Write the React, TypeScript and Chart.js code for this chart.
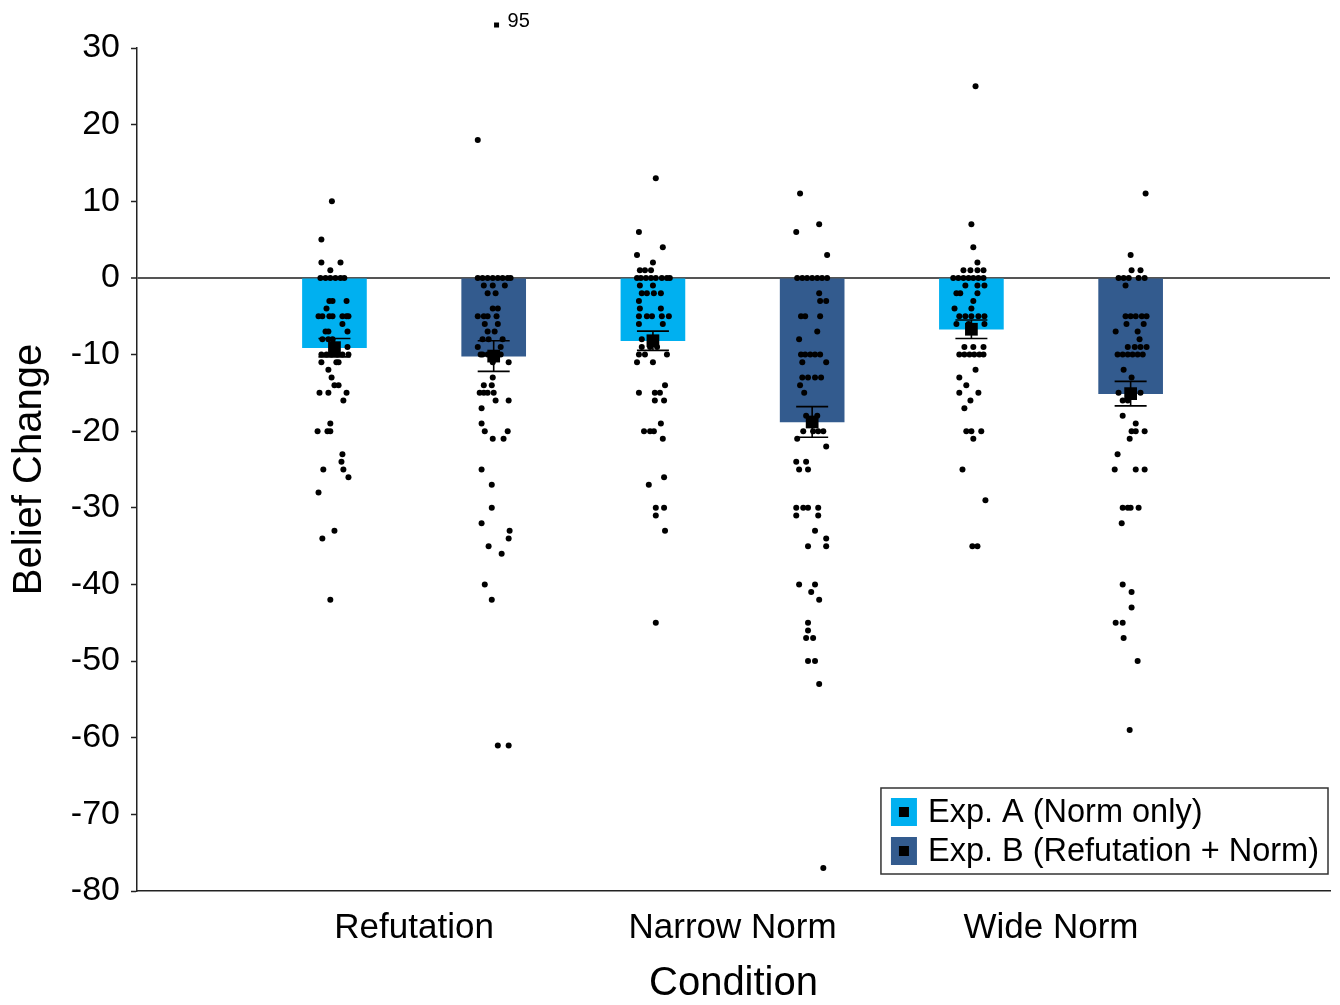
import React, { useEffect, useRef } from 'react';
import { Chart, registerables } from 'chart.js';

Chart.register(...registerables);

const FONT = '"Liberation Sans", Arial, Helvetica, sans-serif';

const categories = ['Refutation', 'Narrow Norm', 'Wide Norm'];
const seriesLabels = ['Exp. A (Norm only)', 'Exp. B (Refutation + Norm)'];
const seriesColors = ['#00B0F0', '#335B8E'];
const yTickMin = -80;
const yTickMax = 30;
const yTickStep = 10;

// group means and standard errors
const meansA = [-9.1, -8.2, -6.7];
const seA = [1.2, 1.25, 1.2];
const meansB = [-10.2, -18.8, -15.1];
const seB = [2.0, 2.0, 1.6];

// clipped outlier (actual value 95, drawn just above the axis top)
const outlierLabel = '95';

// individual responses: [belief change, horizontal jitter in thousandths of a category]
const refutationA: [number, number][] = [
  [10, -8], [5, -41], [2, -41], [2, 19], [1, -13],
  [0, -44], [0, -28], [0, -13], [0, 3], [0, 19], [0, 31],
  [-3, -16], [-3, -6], [-3, 38], [-4, -25],
  [-5, -50], [-5, -38], [-5, -16], [-5, -6], [-5, 25], [-5, 38], [-5, 44],
  [-6, 25], [-7, -28], [-7, -19], [-7, 41], [-8, -38], [-8, -19], [-8, -6],
  [-9, 41], [-9, -6], [-9, 3],
  [-10, -41], [-10, -25], [-10, -9], [-10, 9], [-10, 25], [-10, 44],
  [-11, -41], [-11, 6], [-11, 13], [-12, -19], [-13, -9], [-14, 0], [-14, 13],
  [-15, -47], [-15, -19], [-15, 38], [-16, 28], [-19, -13],
  [-20, -53], [-20, -22], [-20, -13], [-23, 25], [-24, 22], [-25, -35], [-25, 28],
  [-26, 44], [-28, -50], [-33, 0], [-34, -38], [-42, -13],
];
const refutationB: [number, number][] = [
  [33, 9], [18, -50],
  [0, -50], [0, -35], [0, -19], [0, -3], [0, 13], [0, 28], [0, 44], [0, 53],
  [-1, -31], [-1, -3], [-1, 35], [-2, -19], [-2, 6], [-4, -3], [-4, 13],
  [-5, -50], [-5, -31], [-5, -19], [-5, 9], [-6, -28], [-6, 13], [-7, -19], [-7, 3],
  [-8, -35], [-8, -16], [-8, 28], [-9, -50], [-9, 22],
  [-10, -41], [-10, -35], [-10, -19], [-10, -3], [-10, 9], [-10, 22],
  [-11, -3], [-11, 47], [-13, -3], [-14, -31], [-14, -6],
  [-15, -44], [-15, -31], [-15, -19], [-15, 0], [-16, 6], [-16, 47], [-17, -38], [-19, -38],
  [-20, -28], [-20, 44], [-21, -3], [-21, 31], [-25, -38], [-27, -6], [-30, -6],
  [-32, -38], [-33, 50], [-34, 47], [-35, -16], [-36, 25], [-40, -28], [-42, -6],
  [-61, 13], [-61, 47],
];
const narrowA: [number, number][] = [
  [13, 9], [6, -44], [4, 31], [3, -50], [2, 0], [1, -41], [1, -25], [1, -6],
  [0, -50], [0, -38], [0, -22], [0, -6], [0, 9], [0, 28], [0, 44], [0, 53],
  [-1, -41], [-1, 0], [-2, -35], [-2, -19], [-2, 3], [-2, 25], [-3, -44],
  [-4, -41], [-4, 25], [-5, -44], [-5, -19], [-5, -3], [-5, 28], [-5, 50],
  [-6, -44], [-6, 31], [-8, -35], [-8, 0], [-9, -35], [-9, -9], [-9, 13],
  [-10, -44], [-10, -25], [-10, 44], [-11, -50], [-11, 0], [-14, 38],
  [-15, -44], [-15, 6], [-15, 22], [-16, 6], [-16, 35], [-19, 25],
  [-20, -28], [-20, -9], [-20, 3], [-21, 31], [-26, 35], [-27, -13],
  [-30, 9], [-30, 35], [-31, 9], [-33, 38], [-45, 9],
];
const narrowB: [number, number][] = [
  [11, -38], [7, 22], [6, -50], [3, 47],
  [0, -47], [0, -31], [0, -16], [0, 0], [0, 16], [0, 31], [0, 47],
  [-2, 22], [-3, 25], [-3, 44], [-5, -35], [-5, -22], [-5, 25], [-7, 16], [-8, -41],
  [-10, -35], [-10, -22], [-10, -6], [-10, 9], [-10, 25], [-11, -31], [-11, 44],
  [-13, -31], [-13, -13], [-13, 9], [-13, 28], [-14, -38], [-15, -25],
  [-18, -19], [-18, 16], [-20, -28], [-20, 3], [-20, 19], [-20, 35], [-21, -47], [-22, 44],
  [-24, -50], [-24, -19], [-25, -41], [-25, -13],
  [-30, -50], [-30, -28], [-30, -13], [-30, 19], [-31, -50], [-31, 19], [-33, 9],
  [-34, 44], [-35, -13], [-35, 44], [-40, -41], [-40, 9], [-41, -3], [-42, 22],
  [-45, -13], [-46, -13], [-47, -19], [-47, 3], [-50, -13], [-50, 9], [-53, 22], [-77, 35],
];
const wideA: [number, number][] = [
  [25, 13], [7, 0], [4, 6], [2, 19], [1, -25], [1, -3], [1, 19], [1, 38],
  [0, -57], [0, -41], [0, -25], [0, -9], [0, 6], [0, 22], [0, 38],
  [-1, -19], [-1, 19], [-1, 41], [-2, -47], [-2, -35], [-2, 19], [-3, 6], [-4, -53], [-4, 0],
  [-5, -38], [-5, -19], [-5, 0], [-5, 22], [-5, 41], [-6, -47], [-6, -9], [-6, 41],
  [-9, -22], [-9, 6], [-9, 38], [-10, -38], [-10, -22], [-10, -6], [-10, 9], [-10, 25], [-10, 38],
  [-12, 13], [-13, -38], [-14, -16], [-15, -38], [-15, 22], [-16, -3], [-17, -22],
  [-20, -16], [-20, 0], [-20, 31], [-21, 6], [-25, -28], [-29, 44], [-35, 3], [-35, 19],
];
const wideB: [number, number][] = [
  [11, 47], [3, 0], [1, 3], [1, 31], [0, -38], [0, -22], [0, -6], [0, 25], [0, 44], [-1, -16],
  [-5, -16], [-5, 0], [-5, 16], [-5, 35], [-5, 50], [-6, -13], [-6, 41], [-7, -47], [-7, 22], [-8, 28],
  [-9, -9], [-9, 13], [-9, 31], [-9, 50], [-10, -41], [-10, -25], [-10, -9], [-10, 6], [-10, 22], [-10, 38],
  [-12, -22], [-13, 3], [-15, -38], [-15, 31], [-16, -25], [-16, -9], [-18, -25], [-19, 16],
  [-20, 3], [-20, 16], [-20, 44], [-21, -3], [-23, -41], [-25, -50], [-25, 16], [-25, 44],
  [-30, -25], [-30, -9], [-30, 0], [-30, 25], [-32, -28],
  [-40, -25], [-41, 3], [-43, 3], [-45, -47], [-45, -25], [-47, -22], [-50, 22], [-59, -3],
];

const pointsA = [refutationA, narrowA, wideA];
const pointsB = [refutationB, narrowB, wideB];

const SERIES_OFFSET = 0.25;

function toXY(groups: [number, number][][], off: number) {
  const out: { x: number; y: number }[] = [];
  groups.forEach((g, i) => {
    g.forEach(([v, j]) => out.push({ x: i + 1 + off + j / 1000, y: v }));
  });
  return out;
}

const errorBarPlugin = {
  id: 'errorBars',
  afterDatasetsDraw(chart: any) {
    const { ctx, scales } = chart;
    const x = scales.x;
    const y = scales.y;
    ctx.save();
    ctx.strokeStyle = '#000';
    ctx.lineWidth = 1.6;
    const draw = (means: number[], ses: number[], off: number) => {
      means.forEach((m, i) => {
        const px = x.getPixelForValue(i + 1 + off);
        const top = y.getPixelForValue(m + ses[i]);
        const bot = y.getPixelForValue(m - ses[i]);
        ctx.beginPath();
        ctx.moveTo(px, top);
        ctx.lineTo(px, bot);
        ctx.moveTo(px - 16, top);
        ctx.lineTo(px + 16, top);
        ctx.moveTo(px - 16, bot);
        ctx.lineTo(px + 16, bot);
        ctx.stroke();
      });
    };
    draw(meansA, seA, -SERIES_OFFSET);
    draw(meansB, seB, SERIES_OFFSET);
    // clipped outlier(s): marker above the axis top plus its true value
    ctx.fillStyle = '#000';
    ctx.font = `20px ${FONT}`;
    ctx.textBaseline = 'middle';
    ctx.textAlign = 'left';
    [pointsA, pointsB].forEach((groups, s) => {
      groups.forEach((g, i) => {
        g.forEach(([v, j]) => {
          if (v > yTickMax) {
            const off = s === 0 ? -SERIES_OFFSET : SERIES_OFFSET;
            const px = x.getPixelForValue(i + 1 + off + j / 1000);
            const py = y.getPixelForValue(v);
            ctx.fillRect(px - 2.5, py - 2.5, 5, 5);
            ctx.fillText(outlierLabel, px + 11, py - 4);
          }
        });
      });
    });
    ctx.restore();
  },
};

const boxLegendPlugin = {
  id: 'boxLegend',
  afterDraw(chart: any) {
    const { ctx, chartArea } = chart;
    ctx.save();
    ctx.font = `32.5px ${FONT}`;
    const textW = Math.max(...seriesLabels.map((t) => ctx.measureText(t).width));
    const padL = 10;
    const sw = 26;
    const gap = 11;
    const padR = 9;
    const w = padL + sw + gap + textW + padR;
    const h = 86;
    const right = chartArea.right - 2;
    const bottom = chartArea.bottom - 17;
    const left = right - w;
    const top = bottom - h;
    ctx.fillStyle = '#fff';
    ctx.fillRect(left, top, w, h);
    ctx.strokeStyle = '#333';
    ctx.lineWidth = 1.5;
    ctx.strokeRect(left, top, w, h);
    seriesLabels.forEach((label, i) => {
      const cy = top + 24 + i * 39;
      ctx.fillStyle = seriesColors[i];
      ctx.fillRect(left + padL, cy - 14, sw, 28);
      ctx.fillStyle = '#000';
      ctx.fillRect(left + padL + sw / 2 - 5, cy - 5, 10, 10);
      ctx.textBaseline = 'middle';
      ctx.textAlign = 'left';
      ctx.fillText(label, left + padL + sw + gap, cy + 1);
    });
    ctx.restore();
  },
};

export default function App() {
  const canvasRef = useRef<HTMLCanvasElement | null>(null);

  useEffect(() => {
    if (!canvasRef.current) return;
    const chart = new Chart(canvasRef.current, {
      type: 'bar',
      data: {
        datasets: [
          {
            type: 'bar',
            label: seriesLabels[0],
            data: meansA.map((m, i) => ({ x: i + 1 - SERIES_OFFSET, y: m })) as any,
            backgroundColor: seriesColors[0],
            barThickness: 64,
            stack: 'all',
            order: 4,
          },
          {
            type: 'bar',
            label: seriesLabels[1],
            data: meansB.map((m, i) => ({ x: i + 1 + SERIES_OFFSET, y: m })) as any,
            backgroundColor: seriesColors[1],
            barThickness: 64,
            stack: 'all',
            order: 3,
          },
          {
            type: 'scatter',
            label: 'responses',
            data: [...toXY(pointsA, -SERIES_OFFSET), ...toXY(pointsB, SERIES_OFFSET)],
            backgroundColor: '#000',
            borderWidth: 0,
            pointRadius: 3,
            pointHoverRadius: 3,
            order: 2,
          },
          {
            type: 'scatter',
            label: 'means',
            data: [
              ...meansA.map((m, i) => ({ x: i + 1 - SERIES_OFFSET, y: m })),
              ...meansB.map((m, i) => ({ x: i + 1 + SERIES_OFFSET, y: m })),
            ],
            backgroundColor: '#000',
            borderWidth: 0,
            pointStyle: 'rect',
            pointRadius: 9,
            pointHoverRadius: 9,
            order: 1,
          },
        ] as any,
      },
      options: {
        animation: false,
        responsive: false,
        maintainAspectRatio: false,
        devicePixelRatio: 1,
        layout: { padding: { top: 48, right: 10, left: 0, bottom: 0 } },
        plugins: {
          legend: { display: false },
          tooltip: { enabled: false },
        },
        scales: {
          x: {
            type: 'linear',
            min: 0.13,
            max: 3.876,
            offset: false,
            grid: { display: false, drawTicks: false },
            border: { display: true, color: '#222', width: 1.5 },
            afterBuildTicks: (scale: any) => {
              scale.ticks = categories.map((_, i) => ({ value: i + 1 }));
            },
            afterFit: (scale: any) => {
              scale.height = 114;
            },
            ticks: {
              autoSkip: false,
              maxRotation: 0,
              padding: 16,
              color: '#000',
              font: { size: 35, family: FONT },
              callback: (v: any) => categories[Math.round(Number(v)) - 1] ?? '',
            },
            title: {
              display: true,
              text: 'Condition',
              color: '#000',
              font: { size: 40, family: FONT },
              padding: { top: 0, bottom: -3 },
            },
          },
          y: {
            type: 'linear',
            min: yTickMin,
            max: yTickMax,
            stacked: false,
            afterFit: (scale: any) => {
              scale.width = 137;
            },
            ticks: {
              stepSize: yTickStep,
              padding: 11,
              color: '#000',
              font: { size: 34, family: FONT },
            },
            grid: {
              drawTicks: true,
              tickLength: 6,
              tickColor: '#222',
              tickWidth: 1.5,
              color: (ctx: any) => (ctx.tick && ctx.tick.value === 0 ? '#555' : 'rgba(0,0,0,0)'),
              lineWidth: (ctx: any) => (ctx.tick && ctx.tick.value === 0 ? 2 : 1),
            },
            border: { display: true, color: '#222', width: 1.5 },
            title: {
              display: true,
              text: 'Belief Change',
              color: '#000',
              font: { size: 40, family: FONT },
              padding: { top: 6, bottom: 0 },
            },
          },
        },
      } as any,
      plugins: [errorBarPlugin, boxLegendPlugin],
    });
    return () => chart.destroy();
  }, []);

  return (
    <div style={{ position: 'absolute', left: 0, top: 0, width: 1340, height: 1005, background: '#fff' }}>
      <canvas ref={canvasRef} width={1340} height={1005} style={{ display: 'block' }} />
    </div>
  );
}
